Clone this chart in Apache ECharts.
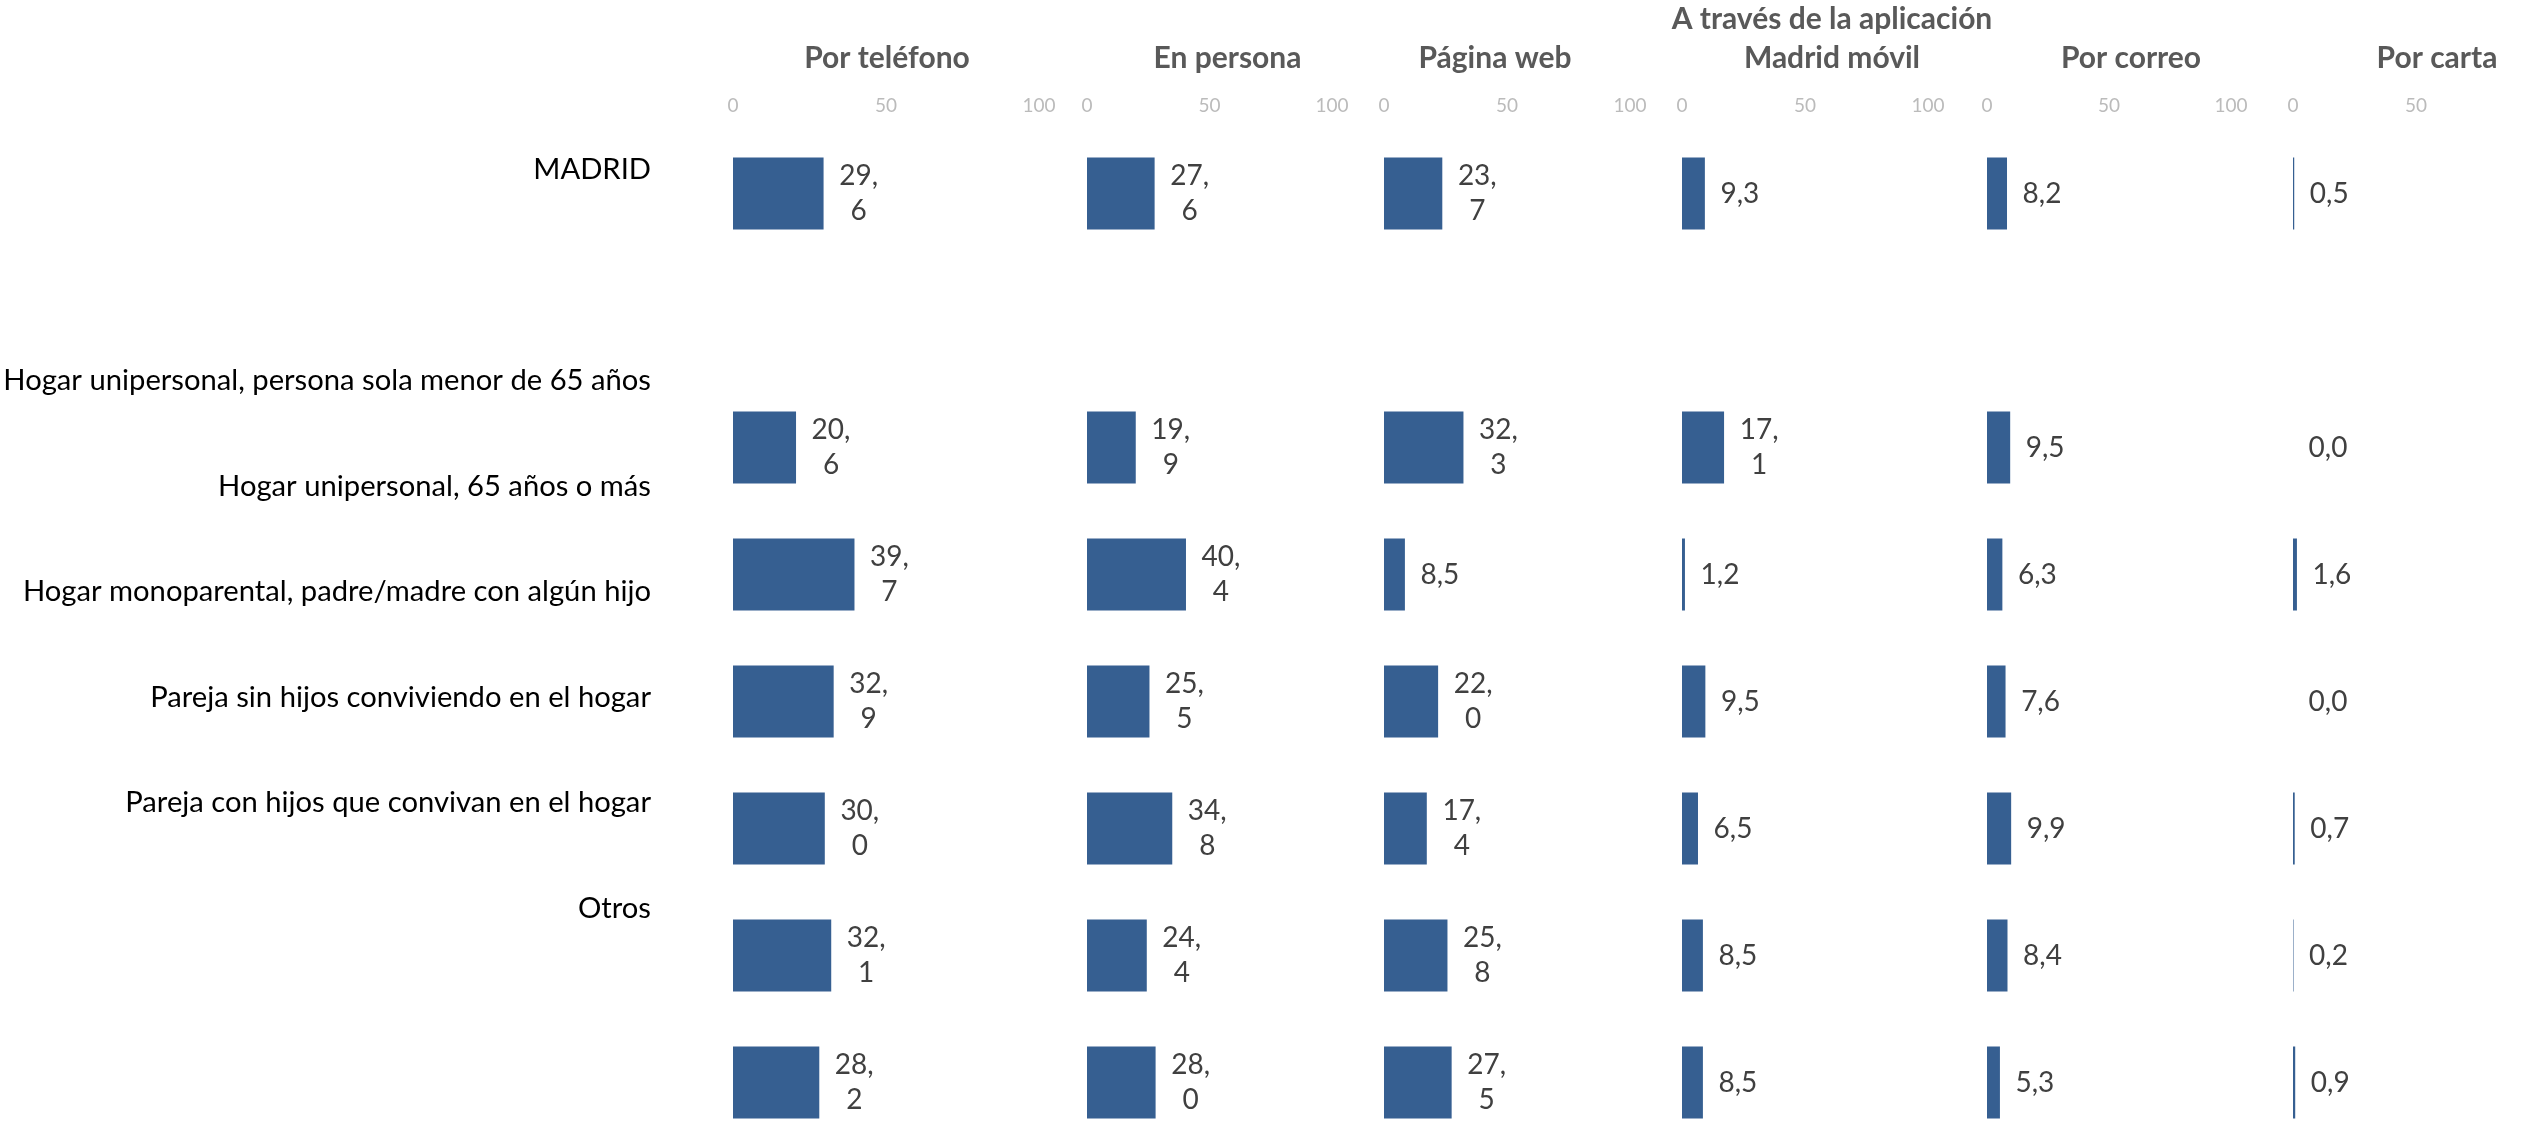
<!DOCTYPE html>
<html><head><meta charset="utf-8">
<script src="https://cdn.jsdelivr.net/npm/echarts@6/dist/echarts.min.js"></script>
<style>html,body{margin:0;padding:0;background:#fff}#c{width:2522px;height:1124px}</style>
</head><body><div id="c"></div>
<script>
// ---- data ----
const rowLabels = ['MADRID', '', 'Hogar unipersonal, persona sola menor de 65 años', 'Hogar unipersonal, 65 años o más', 'Hogar monoparental, padre/madre con algún hijo', 'Pareja sin hijos conviviendo en el hogar', 'Pareja con hijos que convivan en el hogar', 'Otros'];
const barRows = ['MADRID', '', 'Hogar unipersonal, persona sola menor de 65 años', 'Hogar unipersonal, 65 años o más', 'Hogar monoparental, padre/madre con algún hijo', 'Pareja sin hijos conviviendo en el hogar', 'Pareja con hijos que convivan en el hogar', 'Otros'];
const panelTitles = ['Por teléfono', 'En persona', 'Página web', 'A través de la aplicación\nMadrid móvil', 'Por correo', 'Por carta'];
const porTelefono = [29.6, null, 20.6, 39.7, 32.9, 30.0, 32.1, 28.2];
const enPersona   = [27.6, null, 19.9, 40.4, 25.5, 34.8, 24.4, 28.0];
const paginaWeb   = [23.7, null, 32.3, 8.5, 22.0, 17.4, 25.8, 27.5];
const appMadrid   = [9.3, null, 17.1, 1.2, 9.5, 6.5, 8.5, 8.5];
const porCorreo   = [8.2, null, 9.5, 6.3, 7.6, 9.9, 8.4, 5.3];
const porCarta    = [0.5, null, 0.0, 1.6, 0.0, 0.7, 0.2, 0.9];
const axisMin = 0, axisMax = 100, axisStep = 50;

const panelValues = [porTelefono, enPersona, paginaWeb, appMadrid, porCorreo, porCarta];

// ---- layout ----
const panelLeft  = [733, 1087, 1384, 1682, 1987, 2293];
const panelWidth = [306, 245, 246, 246, 244, 246];
const titleShift = [1, 18, -12, 27, 22, 21];
const FONT = 'Lato';

function fmt(v) {
  const s = v.toFixed(1).replace('.', ',');
  return s.length > 3 ? s.replace(',', ',\n') : s;
}

const grids = [], xAxes = [], yAxes = [], series = [];
panelValues.forEach((vals, i) => {
  grids.push({ left: panelLeft[i], width: panelWidth[i], top: 130, height: 1016, outerBoundsMode: 'none', containLabel: false });
  const sh = titleShift[i];
  xAxes.push({
    type: 'value', gridIndex: i, min: axisMin, max: axisMax, interval: axisStep, position: 'top',
    axisLine: { show: false }, axisTick: { show: false }, splitLine: { show: false },
    axisLabel: { color: '#bbbbbb', fontSize: 19, fontFamily: FONT, margin: 15, showMinLabel: true, showMaxLabel: true },
    name: panelTitles[i], nameLocation: 'middle', nameGap: 52,
    nameTextStyle: { color: '#595959', fontSize: 30, fontWeight: 'bold', fontFamily: FONT, lineHeight: 39,
      padding: sh >= 0 ? [0, 0, 0, 2 * sh] : [0, -2 * sh, 0, 0] }
  });
  yAxes.push({ type: 'category', gridIndex: i, data: barRows, inverse: true, show: false });
  series.push({
    type: 'bar', xAxisIndex: i, yAxisIndex: i, data: vals, barWidth: 72,
    itemStyle: { color: '#365f91' },
    label: {
      show: true, position: 'right', distance: 35, align: 'center',
      formatter: p => fmt(p.value), color: '#404040', fontSize: 28, lineHeight: 35, fontFamily: FONT
    }
  });
});
// row-label grid
grids.push({ left: 656, width: 10, top: 117, height: 844, outerBoundsMode: 'none', containLabel: false });
xAxes.push({ type: 'value', gridIndex: 6, show: false });
yAxes.push({
  type: 'category', gridIndex: 6, data: rowLabels, inverse: true, position: 'left',
  axisLine: { show: false }, axisTick: { show: false }, splitLine: { show: false },
  axisLabel: { color: '#000000', fontSize: 29.2, fontFamily: FONT, margin: 5, interval: 0 }
});

const chart = echarts.init(document.getElementById('c'), null, { renderer: 'canvas' });
chart.setOption({ animation: false, backgroundColor: '#ffffff', grid: grids, xAxis: xAxes, yAxis: yAxes, series: series });
</script></body></html>
